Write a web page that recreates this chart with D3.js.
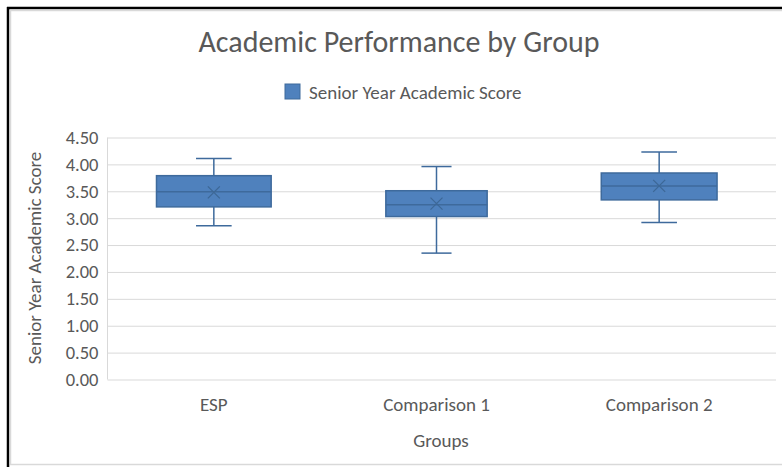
<!DOCTYPE html>
<html>
<head>
<meta charset="utf-8">
<script src="https://cdn.jsdelivr.net/npm/d3@7"></script>
<style>
  html, body { margin: 0; padding: 0; background: #fff; }
  svg { display: block; }
  text { font-family: Carlito, Lato, "Open Sans", sans-serif; fill: #595959; }
</style>
</head>
<body>
<svg id="chart" width="782" height="467"></svg>
<script>
// ---- data ----
const categories = ["ESP", "Comparison 1", "Comparison 2"];
const whiskerMin = [2.86, 2.35, 2.92];
const q1Values   = [3.21, 3.03, 3.34];
const medians    = [3.49, 3.25, 3.60];
const q3Values   = [3.79, 3.51, 3.84];
const whiskerMax = [4.11, 3.96, 4.23];
const means      = [3.48, 3.27, 3.60];
const yTicks = [0, 0.5, 1, 1.5, 2, 2.5, 3, 3.5, 4, 4.5];
const titleText = "Academic Performance by Group";
const seriesName = "Senior Year Academic Score";
const xTitle = "Groups";
const yTitle = "Senior Year Academic Score";

// ---- styles ----
const FONT = 'Carlito, Lato, "Open Sans", sans-serif';
const boxFrac = [0.515, 0.455, 0.52];
const capFrac = [0.16, 0.135, 0.16];
const fill = "#4f81bd", stroke = "#3e6a9c";

const svg = d3.select("#chart");
const W = 782, H = 467;

// frame
svg.append("line").attr("x1", 7).attr("x2", W).attr("y1", 8).attr("y2", 8).attr("stroke", "#000").attr("stroke-width", 2.5);
svg.append("line").attr("x1", 8).attr("x2", 8).attr("y1", 7).attr("y2", H).attr("stroke", "#000").attr("stroke-width", 2.5);
svg.append("line").attr("x1", 10).attr("x2", W).attr("y1", 10.5).attr("y2", 10.5).attr("stroke", "#d9d9d9").attr("stroke-width", 1.5);
svg.append("line").attr("x1", 10.5).attr("x2", 10.5).attr("y1", 10).attr("y2", 464).attr("stroke", "#d9d9d9").attr("stroke-width", 1.5);
svg.append("line").attr("x1", 10).attr("x2", W).attr("y1", 464.5).attr("y2", 464.5).attr("stroke", "#d9d9d9").attr("stroke-width", 1.5);

const plotL = 107.5, plotR = 776;
const y = d3.scaleLinear().domain([0, 4.5]).range([379.5, 137.5]);
const x = d3.scaleBand().domain(categories).range([102.5, 770.5]);

// grid
const grid = svg.append("g").attr("transform", `translate(${plotL},0)`)
  .call(d3.axisLeft(y).tickValues(yTicks).tickSize(-(plotR - plotL)).tickFormat(""));
grid.select(".domain").remove();
grid.selectAll(".tick line").attr("stroke", "#d9d9d9").attr("stroke-width", 1);

// y-axis line
svg.append("line").attr("x1", plotL).attr("x2", plotL).attr("y1", y(4.5)).attr("y2", y(0))
  .attr("stroke", "#d9d9d9");

// y tick labels
const yAxis = svg.append("g").attr("transform", `translate(${plotL},0)`)
  .call(d3.axisLeft(y).tickValues(yTicks).tickSize(0).tickPadding(9).tickFormat(d3.format(".2f")));
yAxis.select(".domain").remove();
yAxis.selectAll("text").style("font-family", FONT).style("font-size", "18.5px").attr("fill", "#595959");

// x labels
const xAxis = svg.append("g").attr("transform", `translate(0,${y(0)})`)
  .call(d3.axisBottom(x).tickSize(0).tickPadding(18));
xAxis.select(".domain").remove();
xAxis.selectAll("text").style("font-family", FONT).style("font-size", "19px").attr("fill", "#595959");

// boxes
const data = categories.map((c, i) => ({ c, i, lo: whiskerMin[i], q1: q1Values[i], med: medians[i], q3: q3Values[i], hi: whiskerMax[i], mean: means[i] }));
const bw = x.bandwidth();
const g = svg.append("g");
data.forEach(d => {
  const cx = x(d.c) + bw / 2;
  const bW = bw * boxFrac[d.i], cW = bw * capFrac[d.i];
  g.append("line").attr("x1", cx).attr("x2", cx).attr("y1", y(d.hi)).attr("y2", y(d.q3)).attr("stroke", stroke).attr("stroke-width", 1.5);
  g.append("line").attr("x1", cx).attr("x2", cx).attr("y1", y(d.q1)).attr("y2", y(d.lo)).attr("stroke", stroke).attr("stroke-width", 1.5);
  g.append("line").attr("x1", cx - cW / 2).attr("x2", cx + cW / 2).attr("y1", y(d.hi)).attr("y2", y(d.hi)).attr("stroke", stroke).attr("stroke-width", 1.5);
  g.append("line").attr("x1", cx - cW / 2).attr("x2", cx + cW / 2).attr("y1", y(d.lo)).attr("y2", y(d.lo)).attr("stroke", stroke).attr("stroke-width", 1.5);
  g.append("rect").attr("x", cx - bW / 2).attr("y", y(d.q3)).attr("width", bW).attr("height", y(d.q1) - y(d.q3))
    .attr("fill", fill).attr("stroke", stroke).attr("stroke-width", 1.5);
  g.append("line").attr("x1", cx - bW / 2).attr("x2", cx + bW / 2).attr("y1", y(d.med)).attr("y2", y(d.med)).attr("stroke", stroke).attr("stroke-width", 1.5);
  const m = 6, my = y(d.mean);
  g.append("path").attr("d", `M${cx - m},${my - m}L${cx + m},${my + m}M${cx - m},${my + m}L${cx + m},${my - m}`)
    .attr("stroke", "#3d6897").attr("stroke-width", 1.3).attr("fill", "none");
});

// title
svg.append("text").attr("x", 399).attr("y", 52).attr("text-anchor", "middle")
  .style("font-size", "30px").text(titleText);

// legend
svg.append("rect").attr("x", 285).attr("y", 84).attr("width", 15).attr("height", 15)
  .attr("fill", fill).attr("stroke", stroke).attr("stroke-width", 1);
svg.append("text").attr("x", 309).attr("y", 98.5).style("font-size", "19px").text(seriesName);

// axis titles
svg.append("text").attr("x", 441).attr("y", 447).attr("text-anchor", "middle").style("font-size", "19px").text(xTitle);
svg.append("text").attr("transform", "translate(41,258) rotate(-90)").attr("text-anchor", "middle")
  .style("font-size", "19px").text(yTitle);
</script>
</body>
</html>
